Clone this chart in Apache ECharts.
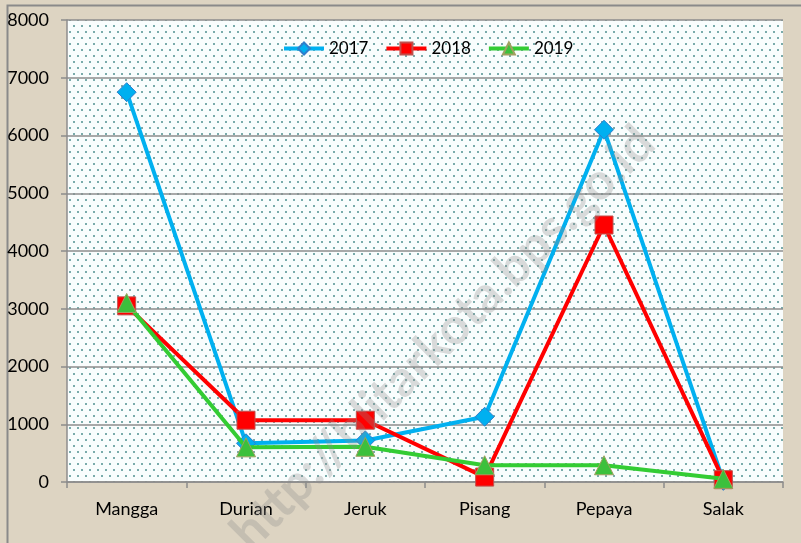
<!DOCTYPE html>
<html>
<head>
<meta charset="utf-8">
<script src="https://cdn.jsdelivr.net/npm/echarts@6/dist/echarts.min.js"></script>
<style>
html,body{margin:0;padding:0;background:#ddd4c2;}
#c{width:801px;height:543px;}
</style>
</head>
<body>
<div id="c"></div>
<script>
var categories = ['Mangga', 'Durian', 'Jeruk', 'Pisang', 'Pepaya', 'Salak'];
var seriesNames = ['2017', '2018', '2019'];
var values2017 = [6750, 670, 720, 1130, 6100, 20];
var values2018 = [3050, 1070, 1070, 85, 4450, 40];
var values2019 = [3100, 600, 610, 290, 290, 55];
var yTicks = [0, 1000, 2000, 3000, 4000, 5000, 6000, 7000, 8000];

// dotted background pattern for plot area
var pc = document.createElement('canvas');
pc.width = 8; pc.height = 12;
var pctx = pc.getContext('2d');
pctx.fillStyle = '#f9fdfd';
pctx.fillRect(0, 0, 8, 12);
pctx.fillStyle = '#7aabab';
pctx.fillRect(1, 1, 2, 2);
pctx.fillRect(5, 7, 2, 2);

var chart = echarts.init(document.getElementById('c'));
var font = 'Lato, "Open Sans", sans-serif';
chart.setOption({
  backgroundColor: '#ddd4c2',
  animation: false,
  textStyle: {fontFamily: font},
  grid: {
    left: 67, right: 18, top: 20, bottom: 61,
    show: true,
    backgroundColor: {image: pc, repeat: 'repeat'},
    borderWidth: 0
  },
  legend: {
    data: seriesNames,
    top: 40,
    left: 282,
    padding: 0,
    itemWidth: 40,
    itemHeight: 15,
    itemGap: 16,
    lineStyle: {width: 4},
    textStyle: {fontSize: 17, color: '#000', fontFamily: font}
  },
  graphic: [
    {
      type: 'rect', left: 5, top: 3, z: -1, silent: true,
      shape: {width: 800, height: 545},
      style: {fill: 'none', stroke: '#8a8a8a', lineWidth: 2}
    },
    {
      type: 'text', x: 443, y: 338, rotation: Math.PI / 4, z: 100, silent: true,
      style: {
        text: 'http://blitarkota.bps.go.id',
        font: 'bold 51px ' + font,
        fill: 'rgba(140,140,140,0.3)',
        align: 'center', verticalAlign: 'middle'
      }
    }
  ],
  xAxis: {
    type: 'category',
    data: categories,
    boundaryGap: true,
    axisLine: {lineStyle: {color: '#8c8c8c', width: 1.5}},
    axisTick: {show: true, length: 6, lineStyle: {color: '#8c8c8c', width: 1.5}},
    axisLabel: {fontSize: 18, color: '#000', margin: 18, fontFamily: font}
  },
  yAxis: {
    type: 'value',
    min: yTicks[0], max: yTicks[yTicks.length - 1], interval: 1000,
    axisLine: {show: true, lineStyle: {color: '#8c8c8c', width: 1.5}},
    axisTick: {show: true, length: 6, lineStyle: {color: '#8c8c8c', width: 1.5}},
    splitLine: {lineStyle: {color: '#8c8c8c', width: 1.5}},
    axisLabel: {fontSize: 18, color: '#000', margin: 18, fontFamily: font,
      formatter: function (v) { return String(v); }}
  },
  series: [
    {
      name: seriesNames[0], type: 'line', data: values2017,
      symbol: 'diamond', symbolSize: 19,
      lineStyle: {color: '#00b0f0', width: 4},
      itemStyle: {color: '#00b0f0', borderColor: '#2f7ecb', borderWidth: 1},
      z: 2
    },
    {
      name: seriesNames[1], type: 'line', data: values2018,
      symbol: 'rect', symbolSize: 18,
      lineStyle: {color: '#ff0000', width: 4},
      itemStyle: {color: '#ff0000', borderColor: '#c0504d', borderWidth: 1},
      z: 3
    },
    {
      name: seriesNames[2], type: 'line', data: values2019,
      symbol: 'triangle', symbolSize: 19,
      lineStyle: {color: '#33cc33', width: 4},
      itemStyle: {color: '#3cc03c', borderColor: '#a0a060', borderWidth: 1},
      z: 4
    }
  ]
});
</script>
</body>
</html>
